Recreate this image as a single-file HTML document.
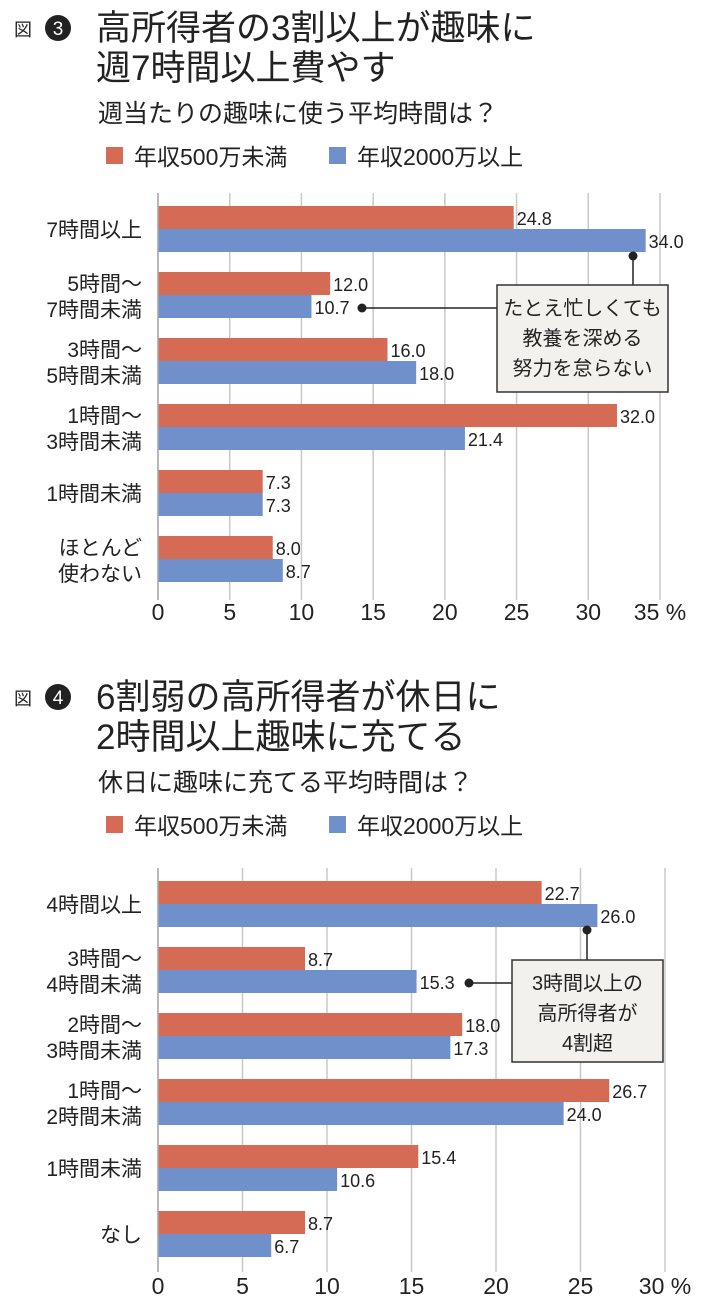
<!DOCTYPE html>
<html><head><meta charset="utf-8">
<style>
body{margin:0;background:#fff;}
svg{display:block;font-family:"Liberation Sans Narrow","Liberation Sans","Noto Sans CJK JP",sans-serif;}
</style></head>
<body>
<svg id="s" width="710" height="1311" viewBox="0 0 710 1311" xmlns="http://www.w3.org/2000/svg"></svg>
<script>
const cats1=[["7時間以上"],["5時間～","7時間未満"],["3時間～","5時間未満"],["1時間～","3時間未満"],["1時間未満"],["ほとんど","使わない"]];
const low1=[24.8,12.0,16.0,32.0,7.3,8.0];
const high1=[34.0,10.7,18.0,21.4,7.3,8.7];
const ticks1=[0,5,10,15,20,25,30,35];
const cats2=[["4時間以上"],["3時間～","4時間未満"],["2時間～","3時間未満"],["1時間～","2時間未満"],["1時間未満"],["なし"]];
const low2=[22.7,8.7,18.0,26.7,15.4,8.7];
const high2=[26.0,15.3,17.3,24.0,10.6,6.7];
const ticks2=[0,5,10,15,20,25,30];

const S=document.getElementById('s');const NS='http://www.w3.org/2000/svg';
function el(t,a,txt){const e=document.createElementNS(NS,t);for(const k in a)e.setAttribute(k,a[k]);if(txt!==undefined)e.textContent=txt;S.appendChild(e);return e;}
const JP='"Liberation Sans","Noto Sans CJK JP",sans-serif';

function header(y0,num,l1,l2,sub){
  let e=el('text',{x:14,y:y0+8,'font-size':18,'font-family':JP,fill:'#222'},'図');
  
  e=el('circle',{cx:58,cy:y0,r:13,fill:'#222'});
  
  e=el('text',{x:58,y:y0+7,'font-size':19,fill:'#fff','text-anchor':'middle'},num);
  
  e=el('text',{x:96,y:y0+12,'font-size':35,'font-family':JP,fill:'#222'},l1);
  
  e=el('text',{x:96,y:y0+52,'font-size':35,'font-family':JP,fill:'#222'},l2);
  
  e=el('text',{x:98,y:y0+94,'font-size':25,'font-family':JP,fill:'#222'},sub);
  
  const ly=y0+137;
  e=el('rect',{x:106,y:ly-18,width:17,height:17,fill:'#d56a55'});
  
  e=el('text',{x:134,y:ly,'font-size':23,'font-family':JP,fill:'#222'},'年収500万未満');
  
  e=el('rect',{x:329,y:ly-18,width:17,height:17,fill:'#7090cc'});
  
  e=el('text',{x:357,y:ly,'font-size':23,'font-family':JP,fill:'#222'},'年収2000万以上');
  
}

function chart(cats,low,high,ticks,x0,xMax,maxV,top,gTop,gBot,tickY){
  const sx=v=>x0+(xMax-x0)*v/maxV;
  ticks.forEach((t,i)=>{
    let e=el('line',{x1:sx(t),x2:sx(t),y1:gTop,y2:gBot,stroke:'#c8c8c8','stroke-width':1.5});
    
    e=el('text',{x:sx(t),y:tickY,'font-size':23,'text-anchor':'middle',fill:'#222'},t+(i===ticks.length-1?' %':''));
    
  });
  cats.forEach((c,i)=>{
    const y=top+i*66;
    let e=el('rect',{x:x0,y:y,width:sx(low[i])-x0,height:23,fill:'#d56a55'});
    
    e=el('rect',{x:x0,y:y+23,width:sx(high[i])-x0,height:23,fill:'#7090cc'});
    
    e=el('text',{x:sx(low[i])+3,y:y+19,'font-size':18,fill:'#222'},low[i].toFixed(1));
    
    e=el('text',{x:sx(high[i])+3,y:y+42,'font-size':18,fill:'#222'},high[i].toFixed(1));
    
    const cy=y+23;
    c.forEach((l,j)=>{
      const ty=c.length===1?cy+8:cy-4+(j*26);
      e=el('text',{x:142,y:ty,'font-size':21,'font-family':JP,'text-anchor':'end',fill:'#222'},l);
      
    });
  });
  let e=el('line',{x1:x0,x2:x0,y1:gTop,y2:gBot,stroke:'#aaa','stroke-width':1.5});
  
  return sx;
}

function callout(bx,by,bw,bh,lines,d1,d2){
  let e=el('line',{x1:d1[0],y1:d1[1],x2:d1[0],y2:by,stroke:'#222','stroke-width':1.5});
  
  e=el('line',{x1:d2[0],y1:d2[1],x2:bx,y2:d2[1],stroke:'#222','stroke-width':1.5});
  
  e=el('circle',{cx:d1[0],cy:d1[1],r:4.5,fill:'#222'});
  
  e=el('circle',{cx:d2[0],cy:d2[1],r:4.5,fill:'#222'});
  
  e=el('rect',{x:bx,y:by,width:bw,height:bh,fill:'#f3f1ee',stroke:'#333','stroke-width':1.5});
  
  lines.forEach((l,i)=>{
    e=el('text',{x:bx+bw/2,y:by+30+i*30,'font-size':20,'font-family':JP,'text-anchor':'middle',fill:'#222'},l);
    
  });
}

header(28,'3','高所得者の3割以上が趣味に','週7時間以上費やす','週当たりの趣味に使う平均時間は？');
chart(cats1,low1,high1,ticks1,158,660,35,206,193,600,620);
callout(497,285,171,107,['たとえ忙しくても','教養を深める','努力を怠らない'],[633,256],[362,308]);

header(697,'4','6割弱の高所得者が休日に','2時間以上趣味に充てる','休日に趣味に充てる平均時間は？');
chart(cats2,low2,high2,ticks2,158,665,30,881,868,1272,1294);
callout(512,960,151,102,['3時間以上の','高所得者が','4割超'],[587,930],[469,983]);
</script>
</body></html>
